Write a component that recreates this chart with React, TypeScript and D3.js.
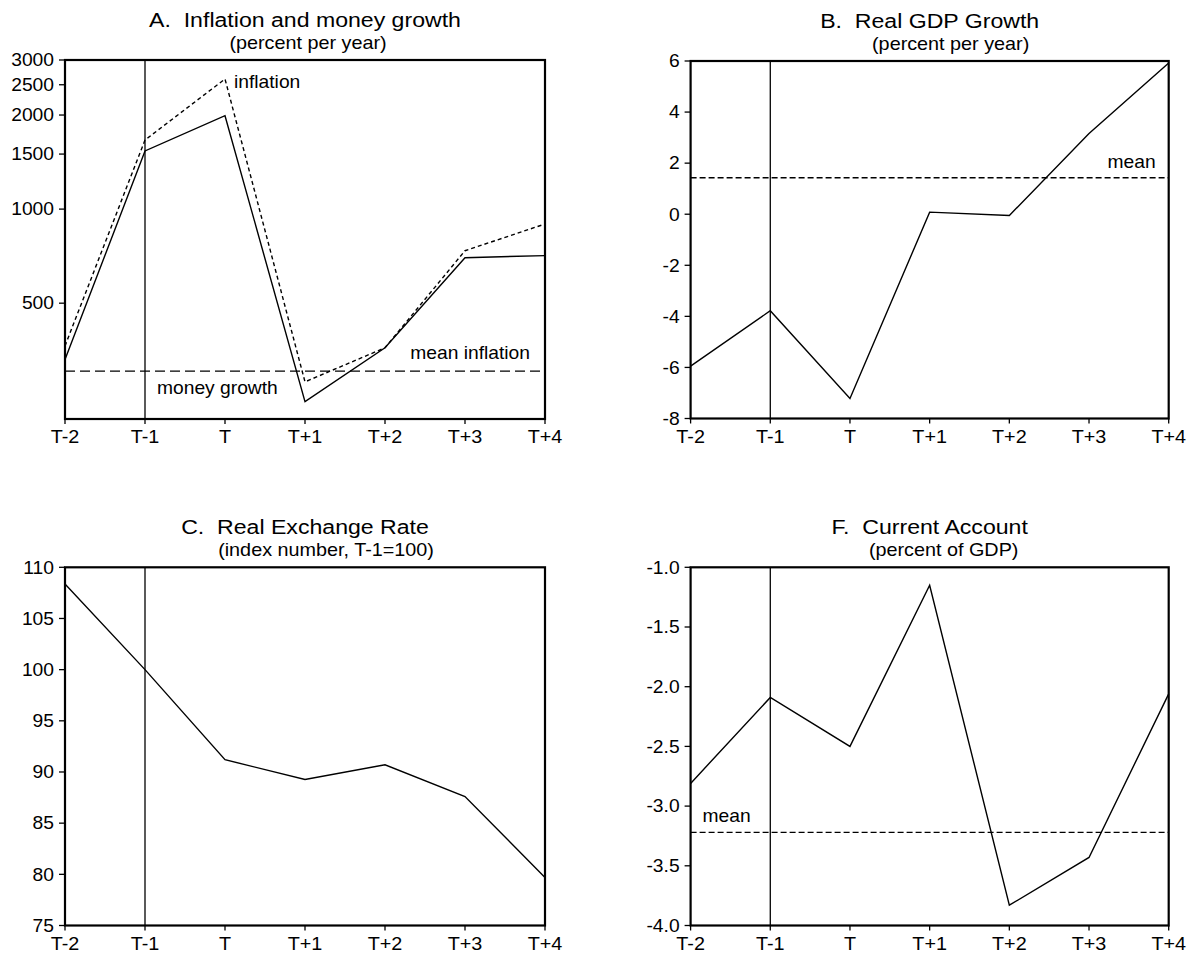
import React from "react";
import * as d3 from "d3";

const periods = ["T-2", "T-1", "T", "T+1", "T+2", "T+3", "T+4"];

const moneyGrowth = [330, 1535, 1990, 242, 360, 699, 710];
const inflation = [365, 1664, 2608, 280, 360, 736, 896];
const meanInflation = 303;
const ticksA = [500, 1000, 1500, 2000, 2500, 3000];

const gdpGrowth = [-5.95, -3.78, -7.22, 0.08, -0.05, 3.16, 5.92];
const gdpMean = 1.43;
const ticksB = [-8, -6, -4, -2, 0, 2, 4, 6];

const realExchangeRate = [108.37, 100, 91.2, 89.27, 90.7, 87.6, 79.7];
const ticksC = [75, 80, 85, 90, 95, 100, 105, 110];

const currentAccount = [-2.81, -2.09, -2.5, -1.15, -3.83, -3.43, -2.06];
const currentAccountMean = -3.22;
const ticksD = [-4.0, -3.5, -3.0, -2.5, -2.0, -1.5, -1.0];

const locale = d3.formatLocale({
  decimal: ".",
  thousands: ",",
  grouping: [3],
  currency: ["$", ""],
  minus: "-",
});
const fmtInt = locale.format("d");
const fmt1 = locale.format(".1f");

const FONT = "'Liberation Sans', Arial, Helvetica, sans-serif";
const SX = 1.1;

type Series = { values: number[]; dash?: string };
type Label = { text: string; x: (xs: any, ys: any, p: any) => number; y: (xs: any, ys: any, p: any) => number; anchor?: string };
type Panel = {
  title: string;
  subtitle: string;
  subDx: number;
  left: number;
  right: number;
  top: number;
  bottom: number;
  log?: boolean;
  domain: [number, number];
  ticks: number[];
  fmt: (v: number) => string;
  series: Series[];
  mean?: { value: number; dash: string };
  labels: Label[];
};

const panels: Panel[] = [
  {
    title: "A.  Inflation and money growth",
    subtitle: "(percent per year)",
    subDx: 3,
    left: 65,
    right: 545,
    top: 60,
    bottom: 419,
    log: true,
    domain: [213, 3000],
    ticks: ticksA,
    fmt: fmtInt,
    series: [
      { values: moneyGrowth },
      { values: inflation, dash: "4 3" },
    ],
    mean: { value: meanInflation, dash: "10 5" },
    labels: [
      { text: "inflation", x: (xs) => xs("T") + 9, y: (xs, ys) => ys(inflation[2]) + 9 },
      { text: "mean inflation", x: (xs, ys, p) => p.right - 15, y: (xs, ys) => ys(meanInflation) - 12, anchor: "end" },
      { text: "money growth", x: (xs) => xs("T-1") + 12, y: (xs, ys) => ys(meanInflation) + 23 },
    ],
  },
  {
    title: "B.  Real GDP Growth",
    subtitle: "(percent per year)",
    subDx: 21,
    left: 690.6,
    right: 1168.7,
    top: 61,
    bottom: 418.5,
    domain: [-8, 6],
    ticks: ticksB,
    fmt: fmtInt,
    series: [{ values: gdpGrowth }],
    mean: { value: gdpMean, dash: "6 3" },
    labels: [
      { text: "mean", x: (xs, ys, p) => p.right - 13, y: (xs, ys) => ys(gdpMean) - 10, anchor: "end" },
    ],
  },
  {
    title: "C.  Real Exchange Rate",
    subtitle: "(index number, T-1=100)",
    subDx: 21,
    left: 65,
    right: 545,
    top: 567.3,
    bottom: 925.5,
    domain: [75, 110],
    ticks: ticksC,
    fmt: fmtInt,
    series: [{ values: realExchangeRate }],
    labels: [],
  },
  {
    title: "F.  Current Account",
    subtitle: "(percent of GDP)",
    subDx: 14,
    left: 690.6,
    right: 1168.7,
    top: 567.3,
    bottom: 925.5,
    domain: [-4, -1],
    ticks: ticksD,
    fmt: fmt1,
    series: [{ values: currentAccount }],
    mean: { value: currentAccountMean, dash: "6 3" },
    labels: [
      { text: "mean", x: (xs, ys, p) => p.left + 12, y: (xs, ys) => ys(currentAccountMean) - 10 },
    ],
  },
];

function Txt({ x, y, size, anchor = "start", children }: any) {
  return (
    <text
      transform={`translate(${x},${y}) scale(${SX},1)`}
      fontSize={size}
      fontFamily={FONT}
      textAnchor={anchor}
      fill="#000"
      style={{ whiteSpace: "pre" }}
    >
      {children}
    </text>
  );
}

function PanelView({ p }: { p: Panel }) {
  const xs = d3.scalePoint<string>().domain(periods).range([p.left, p.right]);
  const ys = p.log
    ? d3.scaleLog().domain(p.domain).range([p.bottom, p.top])
    : d3.scaleLinear().domain(p.domain).range([p.bottom, p.top]);
  const line = d3
    .line<number>()
    .x((_, i) => xs(periods[i]) as number)
    .y((d) => ys(d));
  const cx = (p.left + p.right) / 2;
  return (
    <g>
      <Txt x={cx} y={p.top - 33} size={21} anchor="middle">
        {p.title}
      </Txt>
      <Txt x={cx + p.subDx} y={p.top - 11} size={18} anchor="middle">
        {p.subtitle}
      </Txt>
      <line
        x1={xs("T-1")}
        x2={xs("T-1")}
        y1={p.top}
        y2={p.bottom}
        stroke="#000"
        strokeWidth={1.3}
      />
      {p.mean && (
        <line
          x1={p.left}
          x2={p.right}
          y1={ys(p.mean.value)}
          y2={ys(p.mean.value)}
          stroke="#000"
          strokeWidth={1.4}
          strokeDasharray={p.mean.dash}
        />
      )}
      {p.series.map((s, i) => (
        <path
          key={i}
          d={line(s.values) || ""}
          fill="none"
          stroke="#000"
          strokeWidth={1.4}
          strokeDasharray={s.dash}
          strokeLinejoin="miter"
        />
      ))}
      {p.labels.map((l, i) => (
        <Txt key={i} x={l.x(xs, ys, p)} y={l.y(xs, ys, p)} size={17.5} anchor={l.anchor || "start"}>
          {l.text}
        </Txt>
      ))}
      <rect
        x={p.left}
        y={p.top}
        width={p.right - p.left}
        height={p.bottom - p.top}
        fill="none"
        stroke="#000"
        strokeWidth={2.2}
      />
      {p.ticks.map((t) => (
        <g key={t}>
          <line x1={p.left - 6} x2={p.left} y1={ys(t)} y2={ys(t)} stroke="#000" strokeWidth={1.3} />
          <Txt x={p.left - 11} y={ys(t) + 6.3} size={17.5} anchor="end">
            {p.fmt(t)}
          </Txt>
        </g>
      ))}
      {periods.map((c) => (
        <g key={c}>
          <line
            x1={xs(c)}
            x2={xs(c)}
            y1={p.bottom}
            y2={p.bottom + 5}
            stroke="#000"
            strokeWidth={1.3}
          />
          <Txt x={xs(c)} y={p.bottom + 24} size={18} anchor="middle">
            {c}
          </Txt>
        </g>
      ))}
    </g>
  );
}

export default function App() {
  return (
    <svg
      width={1192}
      height={959}
      style={{ position: "absolute", left: 0, top: 0, background: "#fff" }}
    >
      <rect x={0} y={0} width={1192} height={959} fill="#fff" />
      {panels.map((p, i) => (
        <PanelView key={i} p={p} />
      ))}
    </svg>
  );
}
